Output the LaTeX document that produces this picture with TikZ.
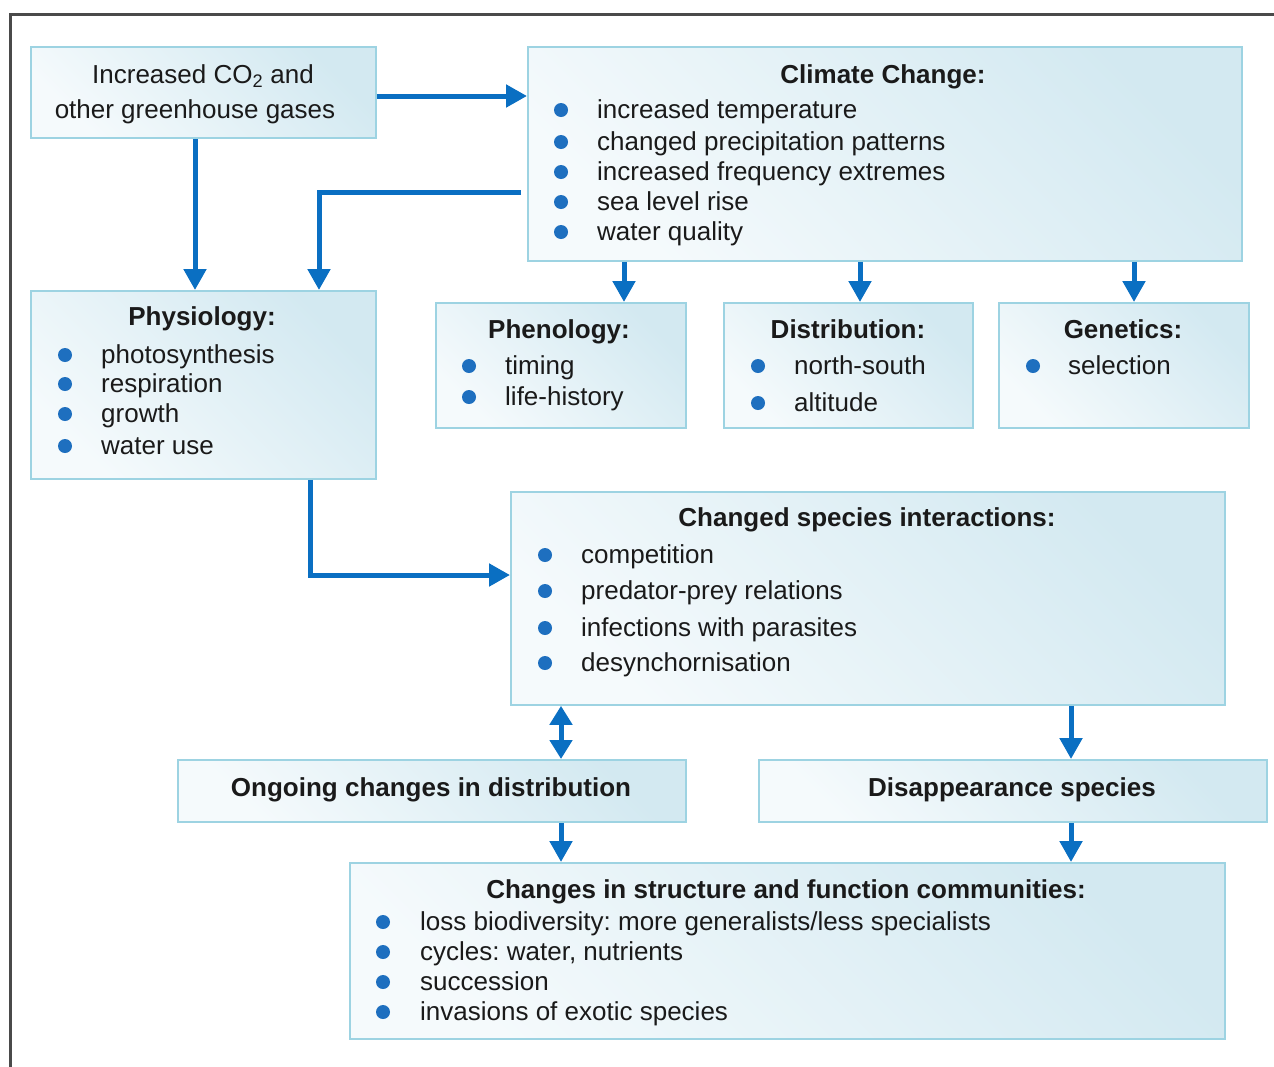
\documentclass[tikz,border=0pt]{standalone}
\usepackage{fontspec}
\setmainfont{Liberation Sans}
\usetikzlibrary{arrows.meta,calc}
\definecolor{arrc}{HTML}{0A6FC2}
\definecolor{bulc}{HTML}{1E6FBF}
\definecolor{txtc}{HTML}{1A1A1A}
\definecolor{bordc}{HTML}{9DD3E2}
\definecolor{boxdark}{HTML}{D3E9F1}
\definecolor{boxlight}{HTML}{F5FAFC}
\definecolor{framec}{HTML}{4A4A4A}
\frenchspacing
\tikzset{
  box/.style={draw=bordc, line width=1.8pt, top color=boxdark, bottom color=boxlight, shading angle=-45, anchor=north west, inner sep=0pt},
  txt/.style={font=\fontsize{26}{31}\selectfont, text=txtc, anchor=mid west, inner sep=0pt, yshift=-6pt},
  ttl/.style={font=\fontsize{26}{31}\selectfont\bfseries, text=txtc, anchor=mid, inner sep=0pt, yshift=-6pt},
  arr/.style={draw=arrc, line width=5pt, -{Triangle[width=22pt,length=21pt]}},
  dbl/.style={draw=arrc, line width=5pt, {Triangle[width=22pt,length=19pt]}-{Triangle[width=22pt,length=19pt]}},
  bul/.style={fill=bulc}
}
\newcommand\bitem[4]{\fill[bul] (#1,#3) circle (7); \node[txt] at (#2,#3) {#4};}
\begin{document}
\begin{tikzpicture}[x=1pt,y=-1pt]
\useasboundingbox (0,0) rectangle (1274,1066);
\draw[framec, line width=3pt] (10,1070) -- (10,14) -- (1280,14);
% boxes
\node[box, minimum width=345pt, minimum height=91pt] (co2) at (30,46) {};
\node[box, minimum width=714pt, minimum height=214pt] (cc) at (527,46) {};
\node[box, minimum width=345pt, minimum height=188pt] (phys) at (30,290) {};
\node[box, minimum width=250pt, minimum height=125pt] (phen) at (435,302) {};
\node[box, minimum width=249pt, minimum height=125pt] (dist) at (723,302) {};
\node[box, minimum width=250pt, minimum height=125pt] (gen) at (998,302) {};
\node[box, minimum width=714pt, minimum height=213pt] (inter) at (510,491) {};
\node[box, minimum width=508pt, minimum height=62pt] (ongo) at (177,759) {};
\node[box, minimum width=508pt, minimum height=62pt] (disap) at (758,759) {};
\node[box, minimum width=875pt, minimum height=176pt] (comm) at (349,862) {};
% texts
\node[txt, anchor=mid] at (203,75) {Increased CO\textsubscript{2} and};
\node[txt, anchor=mid] at (195,110) {other greenhouse gases};
\node[ttl] at (883,75) {Climate Change:};
\bitem{561}{597}{110}{increased temperature}
\bitem{561}{597}{142}{changed precipitation patterns}
\bitem{561}{597}{172}{increased frequency extremes}
\bitem{561}{597}{202}{sea level rise}
\bitem{561}{597}{232}{water quality}
\node[ttl] at (202,317) {Physiology:};
\bitem{65}{101}{355}{photosynthesis}
\bitem{65}{101}{384}{respiration}
\bitem{65}{101}{414}{growth}
\bitem{65}{101}{446}{water use}
\node[ttl] at (559,330) {Phenology:};
\bitem{469}{505}{366}{timing}
\bitem{469}{505}{397}{life-history}
\node[ttl] at (848,330) {Distribution:};
\bitem{758}{794}{366}{north-south}
\bitem{758}{794}{403}{altitude}
\node[ttl] at (1123,330) {Genetics:};
\bitem{1033}{1068}{366}{selection}
\node[ttl] at (867,518) {Changed species interactions:};
\bitem{545}{581}{555}{competition}
\bitem{545}{581}{591}{predator-prey relations}
\bitem{545}{581}{628}{infections with parasites}
\bitem{545}{581}{663}{desynchornisation}
\node[ttl] at (431,788) {Ongoing changes in distribution};
\node[ttl] at (1012,788) {Disappearance species};
\node[ttl] at (786,890) {Changes in structure and function communities:};
\bitem{383}{420}{922}{loss biodiversity: more generalists/less specialists}
\bitem{383}{420}{952}{cycles: water, nutrients}
\bitem{383}{420}{982}{succession}
\bitem{383}{420}{1012}{invasions of exotic species}
% arrows
\draw[arr] (co2.east |- 0,96) -- (cc.west |- 0,96);
\draw[arr] (co2.south -| 195,0) -- (phys.north -| 195,0);
\draw[arr] ($(cc.west |- 0,192)+(-6,0)$) -- (319,192) -- (phys.north -| 319,0);
\draw[arr] (cc.south -| 624,0) -- (phen.north -| 624,0);
\draw[arr] (cc.south -| 860,0) -- (dist.north -| 860,0);
\draw[arr] (cc.south -| 1134,0) -- (gen.north -| 1134,0);
\draw[arr] (phys.south -| 310,0) -- (310,575) -- (inter.west |- 0,575);
\draw[dbl] (inter.south -| 561,0) -- (ongo.north -| 561,0);
\draw[arr] (inter.south -| 1071,0) -- (disap.north -| 1071,0);
\draw[arr] (ongo.south -| 561,0) -- (comm.north -| 561,0);
\draw[arr] (disap.south -| 1071,0) -- (comm.north -| 1071,0);
\end{tikzpicture}
\end{document}
